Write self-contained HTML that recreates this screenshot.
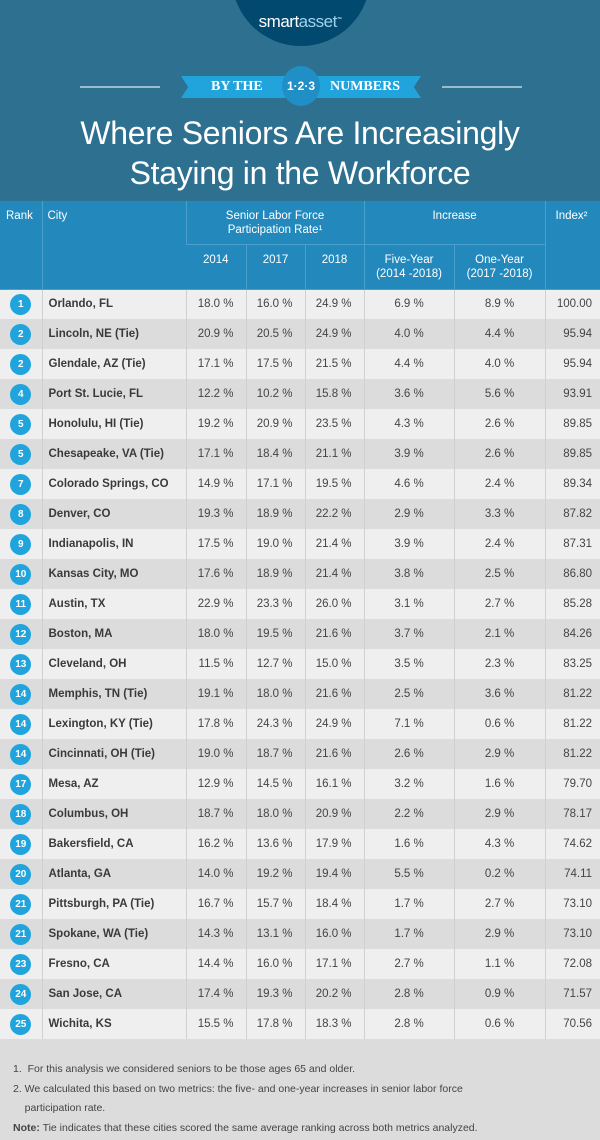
<!DOCTYPE html>
<html><head><meta charset="utf-8"><style>
*{margin:0;padding:0;box-sizing:border-box}
body{width:600px;height:1140px;background:#dcdcdc;font-family:"Liberation Sans",sans-serif;position:relative;overflow:hidden}
#top{position:absolute;left:0;top:0;width:600px;height:201px;background:#2e7090}
#logo{position:absolute;left:232px;top:-90px;width:138px;height:136px;border-radius:50%;background:#02496f}
#logotxt{position:absolute;left:0;width:600px;top:12px;text-align:center;color:#fff;font-size:17px;letter-spacing:-0.5px}
.ln{position:absolute;top:86px;height:2px;background:#9bbccc;width:80px}
#banner{position:absolute;left:181px;top:76px;width:240px;height:22px;background:#21a3dc;clip-path:polygon(0 0,100% 0,97% 50%,100% 100%,0 100%,3% 50%)}
#circ{position:absolute;left:282px;top:66px;width:38px;height:40px;border-radius:50%;background:#1f8fc5;color:#fff;font-size:12px;text-align:center;line-height:40px;font-weight:bold}
.bt{position:absolute;top:79px;color:#fff;font-family:"Liberation Serif",serif;font-weight:bold;font-size:14px}
h1{position:absolute;left:0;width:600px;top:113px;text-align:center;color:#fff;font-weight:normal;font-size:32px;line-height:40px;letter-spacing:-0.3px}
table{position:absolute;left:0;top:201px;width:600px;border-collapse:collapse;table-layout:fixed}
th{background:#2389bc;color:#fff;font-weight:normal;font-size:11.5px;border-left:1px solid #4aa0cc;border-bottom:1px solid #4aa0cc;vertical-align:top;padding-top:8px;line-height:14px}
th:first-child{border-left:none}
td{height:30px;font-size:11.5px;color:#444;border-left:1px solid #d0d0d0;text-align:right;padding-right:12px}
tr.o td{background:#efefef}tr.e td{background:#dcdcdc}
td.r{text-align:center;padding:0;border-left:none}
td.c{text-align:left;padding-left:6px;font-weight:bold;color:#3a3a3a;font-size:11.5px}
td.i{text-align:center;padding:0}
td.x{text-align:right;padding-right:8px}
.b{display:inline-block;width:21px;height:21px;border-radius:50%;background:#21a3dc;color:#fff;font-weight:bold;font-size:10px;line-height:21px;text-align:center}
#notes{position:absolute;left:13px;top:1060px;font-size:10.5px;color:#444;line-height:19.5px}
</style></head><body>
<div id="top">
<div id="logo"></div><div id="logotxt">smart<span style="color:#9fd3ee">asset</span><sup style="font-size:5px">™</sup></div>
<div class="ln" style="left:80px"></div><div class="ln" style="left:442px"></div>
<div id="banner"></div>
<div class="bt" style="left:211px">BY THE</div><div class="bt" style="left:330px">NUMBERS</div>
<div id="circ">1·2·3</div>
<h1>Where Seniors Are Increasingly<br>Staying in the Workforce</h1>
</div>
<table>
<colgroup><col style="width:42px"><col style="width:144px"><col style="width:60px"><col style="width:59px"><col style="width:59px"><col style="width:90px"><col style="width:91px"><col style="width:55px"></colgroup>
<tr><th rowspan="2" style="text-align:left;padding-left:6px;height:88px">Rank</th><th rowspan="2" style="text-align:left;padding-left:5px">City</th><th colspan="3" style="height:43px">Senior Labor Force<br>Participation Rate¹</th><th colspan="2">Increase</th><th rowspan="2" style="text-align:left;padding-left:10px">Index²</th></tr>
<tr><th style="height:45px">2014</th><th>2017</th><th>2018</th><th>Five-Year<br>(2014 -2018)</th><th>One-Year<br>(2017 -2018)</th></tr>
<tr class="o"><td class="r"><span class="b">1</span></td><td class="c">Orlando, FL</td><td>18.0 %</td><td>16.0 %</td><td>24.9 %</td><td class="i">6.9 %</td><td class="i">8.9 %</td><td class="x">100.00</td></tr>
<tr class="e"><td class="r"><span class="b">2</span></td><td class="c">Lincoln, NE (Tie)</td><td>20.9 %</td><td>20.5 %</td><td>24.9 %</td><td class="i">4.0 %</td><td class="i">4.4 %</td><td class="x">95.94</td></tr>
<tr class="o"><td class="r"><span class="b">2</span></td><td class="c">Glendale, AZ (Tie)</td><td>17.1 %</td><td>17.5 %</td><td>21.5 %</td><td class="i">4.4 %</td><td class="i">4.0 %</td><td class="x">95.94</td></tr>
<tr class="e"><td class="r"><span class="b">4</span></td><td class="c">Port St. Lucie, FL</td><td>12.2 %</td><td>10.2 %</td><td>15.8 %</td><td class="i">3.6 %</td><td class="i">5.6 %</td><td class="x">93.91</td></tr>
<tr class="o"><td class="r"><span class="b">5</span></td><td class="c">Honolulu, HI (Tie)</td><td>19.2 %</td><td>20.9 %</td><td>23.5 %</td><td class="i">4.3 %</td><td class="i">2.6 %</td><td class="x">89.85</td></tr>
<tr class="e"><td class="r"><span class="b">5</span></td><td class="c">Chesapeake, VA (Tie)</td><td>17.1 %</td><td>18.4 %</td><td>21.1 %</td><td class="i">3.9 %</td><td class="i">2.6 %</td><td class="x">89.85</td></tr>
<tr class="o"><td class="r"><span class="b">7</span></td><td class="c">Colorado Springs, CO</td><td>14.9 %</td><td>17.1 %</td><td>19.5 %</td><td class="i">4.6 %</td><td class="i">2.4 %</td><td class="x">89.34</td></tr>
<tr class="e"><td class="r"><span class="b">8</span></td><td class="c">Denver, CO</td><td>19.3 %</td><td>18.9 %</td><td>22.2 %</td><td class="i">2.9 %</td><td class="i">3.3 %</td><td class="x">87.82</td></tr>
<tr class="o"><td class="r"><span class="b">9</span></td><td class="c">Indianapolis, IN</td><td>17.5 %</td><td>19.0 %</td><td>21.4 %</td><td class="i">3.9 %</td><td class="i">2.4 %</td><td class="x">87.31</td></tr>
<tr class="e"><td class="r"><span class="b">10</span></td><td class="c">Kansas City, MO</td><td>17.6 %</td><td>18.9 %</td><td>21.4 %</td><td class="i">3.8 %</td><td class="i">2.5 %</td><td class="x">86.80</td></tr>
<tr class="o"><td class="r"><span class="b">11</span></td><td class="c">Austin, TX</td><td>22.9 %</td><td>23.3 %</td><td>26.0 %</td><td class="i">3.1 %</td><td class="i">2.7 %</td><td class="x">85.28</td></tr>
<tr class="e"><td class="r"><span class="b">12</span></td><td class="c">Boston, MA</td><td>18.0 %</td><td>19.5 %</td><td>21.6 %</td><td class="i">3.7 %</td><td class="i">2.1 %</td><td class="x">84.26</td></tr>
<tr class="o"><td class="r"><span class="b">13</span></td><td class="c">Cleveland, OH</td><td>11.5 %</td><td>12.7 %</td><td>15.0 %</td><td class="i">3.5 %</td><td class="i">2.3 %</td><td class="x">83.25</td></tr>
<tr class="e"><td class="r"><span class="b">14</span></td><td class="c">Memphis, TN (Tie)</td><td>19.1 %</td><td>18.0 %</td><td>21.6 %</td><td class="i">2.5 %</td><td class="i">3.6 %</td><td class="x">81.22</td></tr>
<tr class="o"><td class="r"><span class="b">14</span></td><td class="c">Lexington, KY (Tie)</td><td>17.8 %</td><td>24.3 %</td><td>24.9 %</td><td class="i">7.1 %</td><td class="i">0.6 %</td><td class="x">81.22</td></tr>
<tr class="e"><td class="r"><span class="b">14</span></td><td class="c">Cincinnati, OH (Tie)</td><td>19.0 %</td><td>18.7 %</td><td>21.6 %</td><td class="i">2.6 %</td><td class="i">2.9 %</td><td class="x">81.22</td></tr>
<tr class="o"><td class="r"><span class="b">17</span></td><td class="c">Mesa, AZ</td><td>12.9 %</td><td>14.5 %</td><td>16.1 %</td><td class="i">3.2 %</td><td class="i">1.6 %</td><td class="x">79.70</td></tr>
<tr class="e"><td class="r"><span class="b">18</span></td><td class="c">Columbus, OH</td><td>18.7 %</td><td>18.0 %</td><td>20.9 %</td><td class="i">2.2 %</td><td class="i">2.9 %</td><td class="x">78.17</td></tr>
<tr class="o"><td class="r"><span class="b">19</span></td><td class="c">Bakersfield, CA</td><td>16.2 %</td><td>13.6 %</td><td>17.9 %</td><td class="i">1.6 %</td><td class="i">4.3 %</td><td class="x">74.62</td></tr>
<tr class="e"><td class="r"><span class="b">20</span></td><td class="c">Atlanta, GA</td><td>14.0 %</td><td>19.2 %</td><td>19.4 %</td><td class="i">5.5 %</td><td class="i">0.2 %</td><td class="x">74.11</td></tr>
<tr class="o"><td class="r"><span class="b">21</span></td><td class="c">Pittsburgh, PA (Tie)</td><td>16.7 %</td><td>15.7 %</td><td>18.4 %</td><td class="i">1.7 %</td><td class="i">2.7 %</td><td class="x">73.10</td></tr>
<tr class="e"><td class="r"><span class="b">21</span></td><td class="c">Spokane, WA (Tie)</td><td>14.3 %</td><td>13.1 %</td><td>16.0 %</td><td class="i">1.7 %</td><td class="i">2.9 %</td><td class="x">73.10</td></tr>
<tr class="o"><td class="r"><span class="b">23</span></td><td class="c">Fresno, CA</td><td>14.4 %</td><td>16.0 %</td><td>17.1 %</td><td class="i">2.7 %</td><td class="i">1.1 %</td><td class="x">72.08</td></tr>
<tr class="e"><td class="r"><span class="b">24</span></td><td class="c">San Jose, CA</td><td>17.4 %</td><td>19.3 %</td><td>20.2 %</td><td class="i">2.8 %</td><td class="i">0.9 %</td><td class="x">71.57</td></tr>
<tr class="o"><td class="r"><span class="b">25</span></td><td class="c">Wichita, KS</td><td>15.5 %</td><td>17.8 %</td><td>18.3 %</td><td class="i">2.8 %</td><td class="i">0.6 %</td><td class="x">70.56</td></tr>
</table>
<div id="notes">1.&nbsp; For this analysis we considered seniors to be those ages 65 and older.<br>2. We calculated this based on two metrics: the five- and one-year increases in senior labor force<br>&nbsp;&nbsp;&nbsp;&nbsp;participation rate.<br><b>Note:</b> Tie indicates that these cities scored the same average ranking across both metrics analyzed.</div>
</body></html>
